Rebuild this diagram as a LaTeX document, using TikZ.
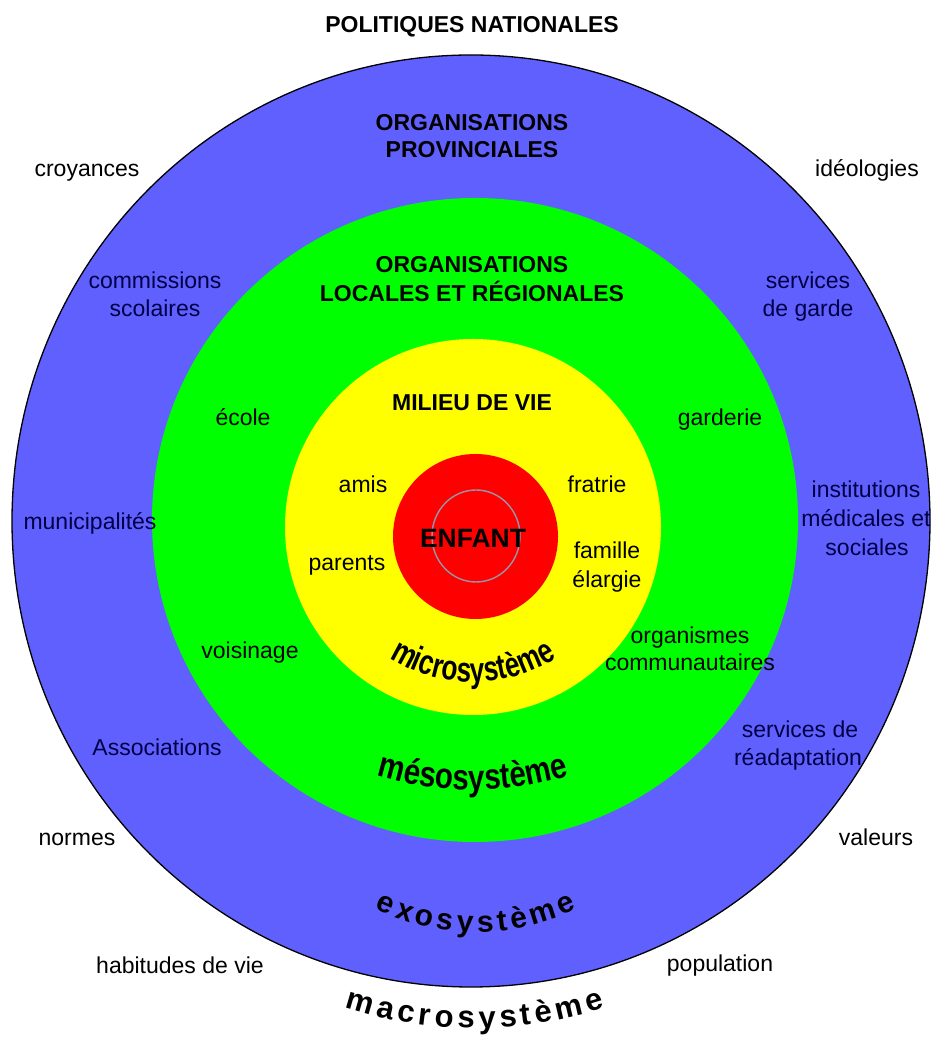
\documentclass[tikz,border=0pt]{standalone}
\usepackage{fontspec}
\setmainfont{Liberation Sans}
\newfontfamily\microfont{Liberation Sans}[FakeStretch=0.75]
\newfontfamily\mesofont{Liberation Sans}[FakeStretch=0.82]
\newfontfamily\exofont{Liberation Sans}[WordSpace=0.5]
\newfontfamily\macrofont{Liberation Sans}[WordSpace=0.5]
\usetikzlibrary{decorations.text}
\definecolor{exoblue}{RGB}{96,96,255}
\definecolor{mesogreen}{RGB}{0,255,0}
\definecolor{microyellow}{RGB}{255,255,0}
\definecolor{childred}{RGB}{255,0,0}
\definecolor{ringgrey}{RGB}{150,150,170}
\definecolor{navytext}{RGB}{0,0,70}
\tikzset{
  lbl/.style={font=\fontsize{23}{27}\selectfont, inner sep=0pt, text height=17pt, text depth=5pt},
  ttl/.style={lbl, font=\bfseries\fontsize{23}{27}\selectfont},
  blbl/.style={lbl, text=navytext},
}
\begin{document}
\begin{tikzpicture}[x=1pt,y=1pt]
\useasboundingbox (0,0) rectangle (933,1038);
% rings
\filldraw[fill=exoblue, draw=black, line width=1.3pt] (471,517) ellipse [x radius=459, y radius=466];
\fill[mesogreen] (475,518) ellipse [x radius=323, y radius=322];
\fill[microyellow] (473,511) circle [radius=188];
\fill[childred] (475.5,501.5) circle [radius=82.5];
\draw[ringgrey, line width=1.4pt] (476,502) ellipse [x radius=44, y radius=46];
% labels
\node[ttl] (politiques) at (472,1011) {POLITIQUES NATIONALES};
\node[ttl] (orgprov1) at (472,913) {ORGANISATIONS};
\node[ttl] (orgprov2) at (472,886) {PROVINCIALES};
\node[lbl] (croyances) at (87,867) {croyances};
\node[lbl] (ideologies) at (867,867) {idéologies};
\node[blbl] (commissions1) at (155,755) {commissions};
\node[blbl] (commissions2) at (155,727) {scolaires};
\node[blbl] (garde1) at (808,755) {services};
\node[blbl] (garde2) at (808,727) {de garde};
\node[ttl] (orgloc1) at (472,771) {ORGANISATIONS};
\node[ttl] (orgloc2) at (472,742) {LOCALES ET RÉGIONALES};
\node[ttl] (milieu) at (472,633) {MILIEU DE VIE};
\node[lbl] (ecole) at (243,618) {école};
\node[lbl] (garderie) at (720,618) {garderie};
\node[lbl] (amis) at (363,551) {amis};
\node[lbl] (fratrie) at (597,551) {fratrie};
\node[blbl] (inst1) at (866,546) {institutions};
\node[blbl] (inst2) at (866,517) {médicales et};
\node[blbl] (inst3) at (867,488) {sociales};
\node[blbl] (municipalites) at (90,514) {municipalités};
\node[font=\bfseries\fontsize{26.5}{30}\selectfont, inner sep=0pt, text height=19pt, text depth=0pt] (enfant) at (473,500) {ENFANT};
\node[lbl] (parents) at (347,473) {parents};
\node[lbl] (famille1) at (607,485) {famille};
\node[lbl] (famille2) at (607,456) {élargie};
\node[lbl] (voisinage) at (250,385) {voisinage};
\node[lbl] (organismes1) at (690,400) {organismes};
\node[lbl] (organismes2) at (690,373) {communautaires};
\node[blbl] (readapt1) at (800,306) {services de};
\node[blbl] (readapt2) at (798,278) {réadaptation};
\node[blbl] (associations) at (157,288) {Associations};
\node[lbl] (normes) at (77,198) {normes};
\node[lbl] (valeurs) at (876,198) {valeurs};
\node[lbl] (habitudes) at (180,70) {habitudes de vie};
\node[lbl] (population) at (720,72) {population};
% curved system names
\path[decorate, decoration={text along path, text align=center,
  text={|\microfont\bfseries\fontsize{35}{35}\selectfont|microsystème}}]
  (473,512) ++(200:156) arc[start angle=200, end angle=340, radius=156];
\path[decorate, decoration={text along path, text align=center,
  text={|\mesofont\bfseries\fontsize{36}{36}\selectfont|mésosystème}}]
  (473,578) ++(200:330) arc[start angle=200, end angle=340, radius=330];
\path[decorate, decoration={text along path, text align=center,
  text={|\exofont\bfseries\fontsize{30}{30}\selectfont|e x o s y s t è m e}}]
  (476,336) ++(200:230) arc[start angle=200, end angle=340, radius=230];
\path[decorate, decoration={text along path, text align=center,
  text={|\macrofont\bfseries\fontsize{31}{31}\selectfont|m a c r o s y s t è m e}}]
  (475,430) ++(220:420) arc[start angle=220, end angle=320, radius=420];
\end{tikzpicture}
\end{document}
